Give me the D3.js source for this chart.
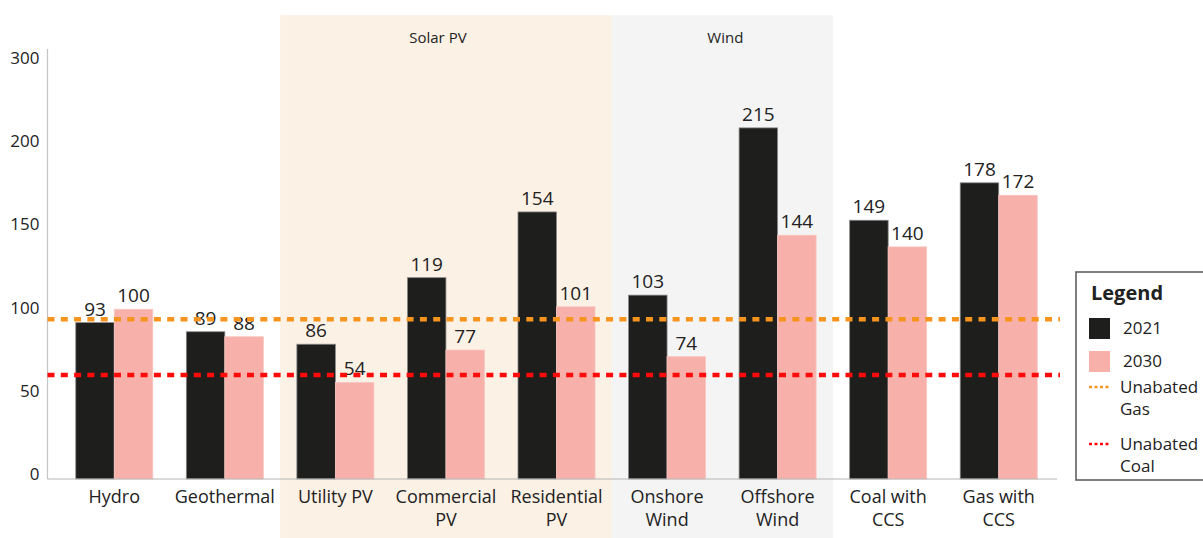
<!DOCTYPE html>
<html>
<head>
<meta charset="utf-8">
<script src="https://cdn.jsdelivr.net/npm/d3@7"></script>
<style>
  body { margin: 0; background: #fff; }
  text { font-family: "Open Sans", "Noto Sans", sans-serif; fill: #222; }
</style>
</head>
<body>
<svg id="chart" width="1203" height="538"></svg>
<script>
// data
const categories = ["Hydro", "Geothermal", "Utility PV", "Commercial\nPV", "Residential\nPV",
  "Onshore\nWind", "Offshore\nWind", "Coal with\nCCS", "Gas with\nCCS"];
const series = ["2021", "2030"];
// bar heights as drawn
const values2021 = [94, 88.5, 81, 121, 160.5, 110.5, 211, 155.5, 178];
const values2030 = [102, 85.5, 58, 77.5, 103.5, 73.5, 146.5, 139.5, 170.5];
// numbers printed above the bars
const labels2021 = [93, 89, 86, 119, 154, 103, 215, 149, 178];
const labels2030 = [100, 88, 54, 77, 101, 74, 144, 140, 172];
const unabatedGas = 96;
const unabatedCoal = 62.5;
const yTicks = [0, 50, 100, 150, 200, 250];
const yTickLabels = ["0", "50", "100", "150", "200", "300"];
const groupNames = ["Solar PV", "Wind"];
const groupFrom = [2, 5];
const groupTo = [4, 6];

const colors = { "2021": "#1e1e1c", "2030": "#f7b0aa" };
const groupFill = ["#fcf1e5", "#f4f4f4"];
const groupLabelShift = [-8, 3];
const gasColor = "#f7941d";
const coalColor = "#ff0a0a";

const margin = { top: 63, right: 149, bottom: 59, left: 59 };
const width = 1203, height = 538;
const svg = d3.select("#chart");

const x = d3.scaleBand()
  .domain(d3.range(categories.length))
  .range([margin.left, width - margin.right])
  .padding(0);
const pad = x.bandwidth() * 0.1516;
const x1 = d3.scaleBand()
  .domain(series)
  .range([pad, x.bandwidth() - pad]);
const y = d3.scaleLinear()
  .domain([0, 250])
  .range([height - margin.bottom, margin.top]);

// shaded groups
groupNames.forEach((name, i) => {
  const x0 = x(groupFrom[i]);
  const xEnd = x(groupTo[i]) + x.bandwidth();
  svg.append("rect")
    .attr("x", x0).attr("y", 15)
    .attr("width", xEnd - x0).attr("height", height - 15)
    .attr("fill", groupFill[i]);
  svg.append("text")
    .attr("x", (x0 + xEnd) / 2 + groupLabelShift[i]).attr("y", 43)
    .attr("text-anchor", "middle")
    .style("font-size", "15px")
    .text(name);
});

// y axis
const axisX = 47.5;
svg.append("g")
  .attr("transform", "translate(" + axisX + ",-5)")
  .call(d3.axisLeft(y).tickValues(yTicks).tickFormat((d, i) => yTickLabels[i]).tickSize(0).tickPadding(8))
  .call(g => g.select(".domain").remove())
  .selectAll("text")
  .style("font-size", "17px")
  .style("font-family", "'Open Sans', sans-serif")
  .attr("fill", "#222");

svg.append("line")
  .attr("x1", axisX).attr("x2", axisX)
  .attr("y1", 49).attr("y2", y(0))
  .attr("stroke", "#c4c4c4").attr("stroke-width", 1.2);

// bars
const rows = categories.map((c, i) => ({
  i,
  bars: [
    { key: "2021", value: values2021[i], label: labels2021[i] },
    { key: "2030", value: values2030[i], label: labels2030[i] }
  ]
}));

const groups = svg.append("g")
  .selectAll("g")
  .data(rows)
  .join("g")
  .attr("transform", d => "translate(" + x(d.i) + ",0)");

groups.selectAll("rect")
  .data(d => d.bars)
  .join("rect")
  .attr("x", d => x1(d.key))
  .attr("y", d => y(d.value))
  .attr("width", x1.bandwidth())
  .attr("height", d => y(0) - y(d.value))
  .attr("fill", d => colors[d.key])
  .attr("stroke", d => d.key === "2021" ? "#8a8a8a" : "#f9c6c1")
  .attr("stroke-width", 0.8);

groups.selectAll("text.val")
  .data(d => d.bars)
  .join("text")
  .attr("class", "val")
  .attr("x", d => x1(d.key) + x1.bandwidth() / 2)
  .attr("y", d => y(d.value) - 7)
  .attr("text-anchor", "middle")
  .style("font-size", "19px")
  .text(d => d.label);

// baseline
svg.append("line")
  .attr("x1", axisX).attr("x2", 1057)
  .attr("y1", y(0)).attr("y2", y(0))
  .attr("stroke", "#b5b5b5").attr("stroke-width", 1.2);

// category labels, one text per line
svg.append("g")
  .selectAll("text")
  .data(categories.flatMap((c, i) => c.split("\n").map((line, j) => ({ i, j, line }))))
  .join("text")
  .attr("text-anchor", "middle")
  .style("font-size", "18px")
  .attr("x", d => x(d.i) + x.bandwidth() / 2)
  .attr("y", d => 503 + d.j * 22.5)
  .text(d => d.line);

// reference lines
[[unabatedGas, gasColor], [unabatedCoal, coalColor]].forEach(([v, c]) => {
  svg.append("line")
    .attr("x1", axisX).attr("x2", 1060)
    .attr("y1", y(v)).attr("y2", y(v))
    .attr("stroke", c).attr("stroke-width", 4.5)
    .attr("stroke-dasharray", "7,6.3");
});

// legend
const lg = svg.append("g").attr("transform", "translate(1076,272)");
lg.append("rect")
  .attr("width", 150).attr("height", 208)
  .attr("fill", "#fff").attr("stroke", "#555").attr("stroke-width", 1.5);
lg.append("text")
  .attr("x", 15).attr("y", 28)
  .style("font-size", "20px").style("font-weight", "bold")
  .text("Legend");
series.forEach((s, i) => {
  lg.append("rect")
    .attr("x", 13).attr("y", 46 + i * 33)
    .attr("width", 21).attr("height", 21)
    .attr("fill", colors[s]);
  lg.append("text")
    .attr("x", 47).attr("y", 62 + i * 33)
    .style("font-size", "17px")
    .text(s);
});
[["Unabated", "Gas", gasColor], ["Unabated", "Coal", coalColor]].forEach((d, i) => {
  const yy = 115 + i * 57;
  lg.append("line")
    .attr("x1", 13).attr("x2", 35)
    .attr("y1", yy).attr("y2", yy)
    .attr("stroke", d[2]).attr("stroke-width", 2.5)
    .attr("stroke-dasharray", "3,2.5");
  lg.append("text").style("font-size", "17px")
    .attr("x", 44).attr("y", yy + 6).text(d[0]);
  lg.append("text").style("font-size", "17px")
    .attr("x", 44).attr("y", yy + 28).text(d[1]);
});
</script>
</body>
</html>
